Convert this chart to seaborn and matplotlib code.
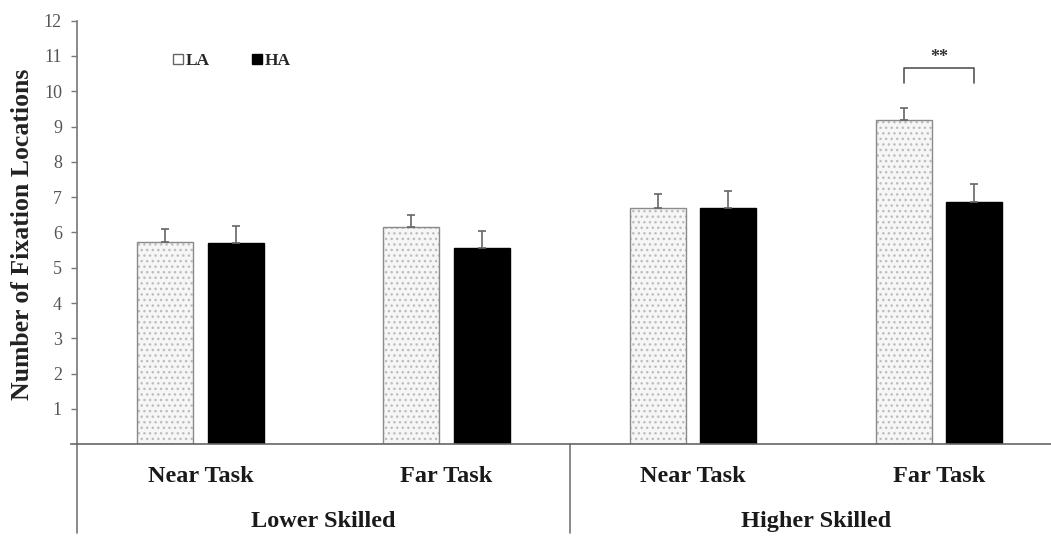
import numpy as np
import pandas as pd
import matplotlib
matplotlib.use("Agg")
import matplotlib.pyplot as plt
from matplotlib.colors import to_rgba
from matplotlib.lines import Line2D
import seaborn as sns

# Mean number of fixation locations (+ SE) by skill level, task and anxiety
skill_groups = ["Lower Skilled", "Higher Skilled"]
tasks = ["Near Task", "Far Task"]
anxiety_levels = ["LA", "HA"]
la_means = [5.72, 6.16, 6.69, 9.19]
ha_means = [5.69, 5.57, 6.70, 6.86]
la_se = [0.38, 0.33, 0.40, 0.35]
ha_se = [0.49, 0.47, 0.48, 0.51]
y_ticks = list(range(1, 13))

conditions = [f"{g}|{t}" for g in skill_groups for t in tasks]
df = pd.DataFrame({
    "condition": conditions * 2,
    "anxiety": ["LA"] * 4 + ["HA"] * 4,
    "fixations": la_means + ha_means,
})
errors = {"LA": la_se, "HA": ha_se}

sns.set_theme(style="white")
plt.rcParams["font.family"] = ["Liberation Serif", "DejaVu Serif"]

fig = plt.figure(figsize=(10.51, 5.36), dpi=100)
ax = fig.add_axes([77.3 / 1051, 0.1711, 973.7 / 1051, 0.7903])

sns.barplot(data=df, x="condition", y="fixations", hue="anxiety",
            order=conditions, hue_order=anxiety_levels,
            palette={"LA": "#f6f6f6", "HA": "black"},
            width=0.572, gap=0.205, legend=False, ax=ax,
            edgecolor="black", linewidth=1.0, saturation=1)

# dotted fill for the low-anxiety bars, grey outline
for p in ax.containers[0]:
    p.set_edgecolor("#8a8a8a")
    p.set_hatch("...")
    p._hatch_color = to_rgba("#bdbdbd")
    p.set_linewidth(1.0)

# upper-only error bars
for cont, level in zip(ax.containers, anxiety_levels):
    xs = [b.get_x() + b.get_width() / 2 for b in cont]
    hs = [b.get_height() for b in cont]
    se = errors[level]
    ax.errorbar(xs, hs, yerr=[np.zeros(len(se)), se], fmt="none",
                ecolor="#666666", elinewidth=1.2, capsize=3, capthick=1.2,
                zorder=1)

ax.set_ylim(0, 12)
ax.set_xlim(-0.5, 3.455)
ax.set_yticks(y_ticks)
ax.set_yticklabels([str(v) for v in y_ticks], fontsize=13, color="#555555")
ax.tick_params(axis="y", left=True, length=4, width=1.0, color="#777777", pad=7)
ax.tick_params(axis="x", bottom=False, labelbottom=False)
ax.set_xlabel("")
ax.set_ylabel("")
fig.text(23 / 1051, 1 - 234 / 536, "Number of Fixation Locations",
         rotation=90, ha="center", va="center", fontsize=18.5,
         fontweight="bold", color="#222222")

for side in ["top", "right"]:
    ax.spines[side].set_visible(False)
ax.spines["left"].set_color("#777777")
ax.spines["left"].set_linewidth(1.2)
ax.spines["bottom"].set_color("#666666")
ax.spines["bottom"].set_linewidth(1.2)
ax.spines["bottom"].set_bounds(-0.525, 3.455)

# category labels under the axis, and group dividers
xtr = ax.get_xaxis_transform()
for i, cond in enumerate(conditions):
    ax.text(i, -0.077, cond.split("|")[1], transform=xtr, ha="center",
            va="center", fontsize=17.5, fontweight="bold", color="#1a1a1a")
for j, g in enumerate(skill_groups):
    ax.text(2 * j + 0.5, -0.183, g, transform=xtr, ha="center", va="center",
            fontsize=17.5, fontweight="bold", color="#1a1a1a")
for xv in [-0.5, 1.5]:
    ax.plot([xv, xv], [0, -0.21], transform=xtr, color="#777777", lw=1.2,
            clip_on=False)

# significance bracket over the higher-skilled far task
far_la = ax.containers[0][3]
far_ha = ax.containers[1][3]
x1 = far_la.get_x() + far_la.get_width() / 2
x2 = far_ha.get_x() + far_ha.get_width() / 2
ax.plot([x1, x1, x2, x2], [10.24, 10.65, 10.65, 10.24], color="#555555", lw=1.2)
ax.text((x1 + x2) / 2, 10.97, "**", ha="center", va="center", fontsize=13,
        fontweight="bold", color="#333333")

handles = [
    Line2D([], [], marker="s", linestyle="none", markersize=7,
           markerfacecolor="white", markeredgecolor="#666666", markeredgewidth=1.0),
    Line2D([], [], marker="s", linestyle="none", markersize=7,
           markerfacecolor="black", markeredgecolor="black"),
]
ax.legend(handles, anxiety_levels, loc="center left", bbox_to_anchor=(0.082, 0.905),
          ncol=2, frameon=False, handlelength=0.6, handletextpad=0.15,
          columnspacing=2.4, prop={"weight": "bold", "size": 12.5})

fig.savefig("out.png", dpi=100)
